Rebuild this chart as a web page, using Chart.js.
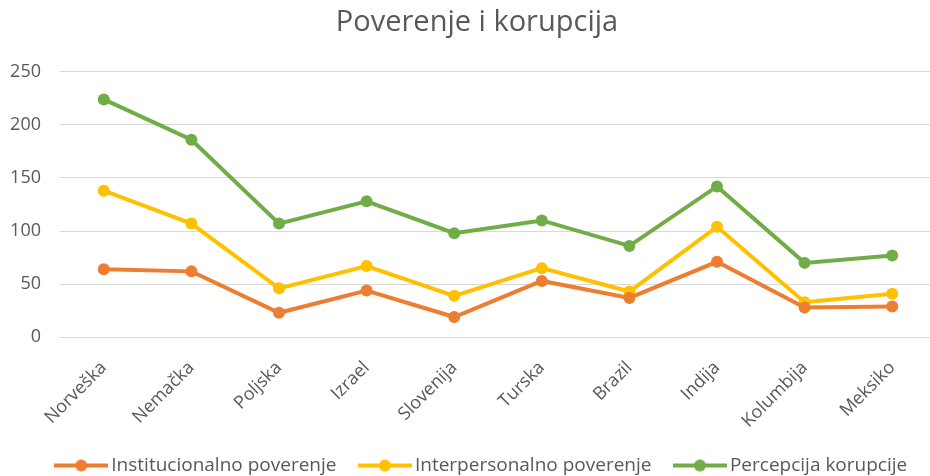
<!DOCTYPE html>
<html lang="en">
<head>
    <meta charset="UTF-8">
    <title>Poverenje i korupcija</title>
    <script src="https://cdn.jsdelivr.net/npm/chart.js"></script>
    <style>
        html, body { margin: 0; padding: 0; background: #fff; overflow: hidden; }
        .wrap { width: 955px; height: 476px; position: relative; }
    </style>
</head>
<body>
    <div class="wrap">
        <canvas id="myChart"></canvas>
    </div>
<script>
    const zemlje = ['Norveška', 'Nemačka', 'Poljska', 'Izrael', 'Slovenija', 'Turska', 'Brazil', 'Indija', 'Kolumbija', 'Meksiko'];
    const institucionalno = [64, 62, 23, 44, 19, 53, 37, 71, 28, 29];
    const interpersonalno = [138, 107, 46, 67, 39, 65, 43, 104, 33, 41];
    const percepcija = [224, 186, 107, 128, 98, 110, 86, 142, 70, 77];
    const yTicks = [0, 50, 100, 150, 200, 250];

    // mala slika za legendu: linija sa tackom
    function legendaIkona(boja) {
        var c = document.createElement('canvas');
        c.width = 54;
        c.height = 14;
        var ctx = c.getContext('2d');
        ctx.strokeStyle = boja;
        ctx.lineWidth = 4;
        ctx.beginPath();
        ctx.moveTo(0, 7);
        ctx.lineTo(54, 7);
        ctx.stroke();
        ctx.fillStyle = boja;
        ctx.beginPath();
        ctx.arc(27, 7, 6, 0, Math.PI * 2);
        ctx.fill();
        return c;
    }

    function serija(naziv, podaci, boja) {
        return {
            label: naziv,
            data: podaci,
            borderColor: boja,
            backgroundColor: boja,
            borderWidth: 4,
            pointRadius: 6,
            pointHoverRadius: 7,
            pointBorderWidth: 0,
            pointStyle: 'circle',
            tension: 0,
            legendIcon: legendaIkona(boja)
        };
    }

    const data = {
        labels: zemlje,
        datasets: [
            serija('Institucionalno poverenje', institucionalno, '#ED7D31'),
            serija('Interpersonalno poverenje', interpersonalno, '#FFC000'),
            serija('Percepcija korupcije', percepcija, '#70AD47')
        ]
    };

    const font = "'Open Sans', 'Liberation Sans', sans-serif";

    // legenda: veci razmak izmedju stavki, ali niska traka pri dnu;
    // naslov i legenda malo udesno (centar slike, ne grafika)
    const raspored = {
        id: 'raspored',
        beforeLayout: function (chart) {
            var leg = chart.legend;
            if (!leg || leg._nizaFit) return;
            var stariFit = leg.fit;
            leg.fit = function () {
                stariFit.call(this);
                this.height = 48;
            };
            leg._nizaFit = true;
        },
        afterLayout: function (chart) {
            if (chart.legend) {
                chart.legend.left += 16;
                chart.legend.right += 16;
            }
            if (chart.titleBlock) {
                chart.titleBlock.left += 9;
                chart.titleBlock.right += 9;
            }
        }
    };

    const config = {
        type: 'line',
        data: data,
        plugins: [raspored],
        options: {
            responsive: false,
            animation: false,
            layout: { padding: { left: 0, right: 19, top: 5, bottom: 0 } },
            plugins: {
                title: {
                    display: true,
                    text: 'Poverenje i korupcija',
                    color: '#595959',
                    font: { family: font, size: 29, weight: 'normal' },
                    padding: { top: 0, bottom: 32 }
                },
                legend: {
                    position: 'bottom',
                    labels: {
                        color: '#595959',
                        font: { family: font, size: 19 },
                        usePointStyle: true,
                        pointStyleWidth: 41,
                        boxHeight: 14,
                        padding: 28,
                        generateLabels: function (chart) {
                            return chart.data.datasets.map(function (ds, i) {
                                return {
                                    text: ds.label,
                                    pointStyle: ds.legendIcon,
                                    fontColor: '#595959',
                                    strokeStyle: ds.borderColor,
                                    fillStyle: ds.borderColor,
                                    lineWidth: 0,
                                    datasetIndex: i
                                };
                            });
                        }
                    }
                },
                tooltip: { enabled: false }
            },
            scales: {
                x: {
                    offset: true,
                    grid: { display: false },
                    border: { display: false },
                    afterFit: function (axis) {
                        axis.height = axis.height - 16;
                    },
                    ticks: {
                        color: '#595959',
                        font: { family: font, size: 18 },
                        minRotation: 45,
                        maxRotation: 45,
                        padding: 12
                    }
                },
                y: {
                    min: 0,
                    max: 250,
                    afterBuildTicks: function (axis) {
                        axis.ticks = yTicks.map(function (v) { return { value: v }; });
                    },
                    afterFit: function (axis) {
                        axis.width = 60;
                    },
                    grid: { color: '#d9d9d9', lineWidth: 1, drawTicks: false },
                    border: { display: false },
                    ticks: {
                        color: '#595959',
                        font: { family: font, size: 18 },
                        padding: 19
                    }
                }
            }
        }
    };

    const canvas = document.getElementById('myChart');
    canvas.width = 955;
    canvas.height = 476;
    const myChart = new Chart(canvas, config);
</script>
</body>
</html>
